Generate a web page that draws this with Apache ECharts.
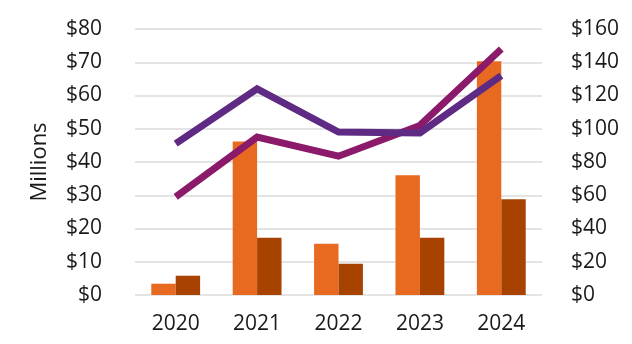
<!DOCTYPE html>
<html>
<head>
<meta charset="utf-8">
<script src="https://cdn.jsdelivr.net/npm/echarts@6/dist/echarts.min.js"></script>
<style>html,body{margin:0;padding:0;background:#fff}#c{width:632px;height:344px}</style>
</head>
<body>
<div id="c"></div>
<script>
const categories = ['2020', '2021', '2022', '2023', '2024'];
const barA = [3.4, 46.2, 15.4, 36.0, 70.3];
const barB = [5.8, 17.2, 9.4, 17.2, 28.8];
const lineMagenta = [59, 95, 83.5, 102, 148];
const linePurple = [91, 124, 98, 97.5, 132];
const leftTicks = { min: 0, max: 80, interval: 10 };
const rightTicks = { min: 0, max: 160, interval: 20 };

const font = 'Open Sans';
const chart = echarts.init(document.getElementById('c'));
chart.setOption({
  animation: false,
  backgroundColor: '#ffffff',
  grid: { left: 135, right: 90, top: 29, bottom: 49 },
  xAxis: {
    type: 'category', data: categories,
    axisLine: { show: false }, axisTick: { show: false },
    axisLabel: { color: '#1a1a1a', fontSize: 21, fontFamily: font, margin: 19 }
  },
  yAxis: [
    {
      type: 'value', min: leftTicks.min, max: leftTicks.max, interval: leftTicks.interval,
      name: 'Millions', nameLocation: 'middle', nameGap: 84,
      nameTextStyle: { color: '#1a1a1a', fontSize: 22, fontFamily: font },
      axisLine: { show: false }, axisTick: { show: false },
      axisLabel: { color: '#1a1a1a', fontSize: 21, fontFamily: font, margin: 33, padding: [5, 0, 0, 0], formatter: v => '$' + v },
      splitLine: { show: true, lineStyle: { color: '#e4e4e4', width: 2 } }
    },
    {
      type: 'value', min: rightTicks.min, max: rightTicks.max, interval: rightTicks.interval,
      axisLine: { show: false }, axisTick: { show: false },
      axisLabel: { color: '#1a1a1a', fontSize: 21, fontFamily: font, margin: 29, padding: [5, 0, 0, 0], formatter: v => '$' + v },
      splitLine: { show: false }
    }
  ],
  series: [
    { type: 'bar', data: barA, barWidth: '30%', barGap: '0%', itemStyle: { color: '#E86A21' }, z: 2 },
    { type: 'bar', data: barB, barWidth: '30%', barGap: '0%', itemStyle: { color: '#A84200' }, z: 2 },
    { type: 'line', yAxisIndex: 1, data: lineMagenta, symbol: 'none', lineStyle: { color: '#8B1A6A', width: 7, cap: 'butt', join: 'miter' }, z: 3 },
    { type: 'line', yAxisIndex: 1, data: linePurple, symbol: 'none', lineStyle: { color: '#5F2A83', width: 7, cap: 'butt', join: 'miter' }, z: 4 }
  ]
});
</script>
</body>
</html>
